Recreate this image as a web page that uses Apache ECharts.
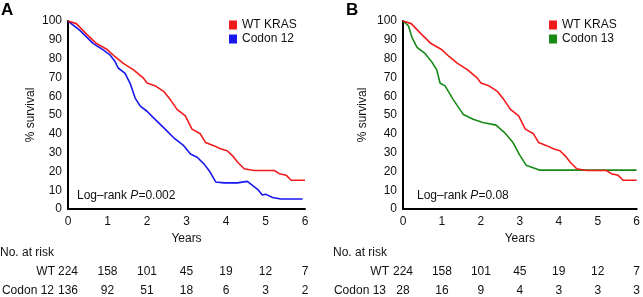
<!DOCTYPE html>
<html>
<head>
<meta charset="utf-8">
<script src="https://cdn.jsdelivr.net/npm/echarts@6/dist/echarts.min.js"></script>
<style>
html,body{margin:0;padding:0;background:#fff;}
#c{width:643px;height:297px;}
</style>
</head>
<body>
<div id="c"></div>
<script>
// ---- data ----
const yTicks = [0,10,20,30,40,50,60,70,80,90,100];
const riskYears = [0,1,2,3,4,5,6];
const riskWT  = [224,158,101,45,19,12,7];
const riskC12 = [136,92,51,18,6,3,2];
const riskC13 = [28,16,9,4,3,3,3];

const wtYears = [0,0.21,0.47,0.72,0.98,1.19,1.4,1.66,1.91,2.0,2.2,2.42,2.59,2.76,2.97,3.14,3.35,3.48,3.69,3.86,4.03,4.16,4.29,4.46,4.71,4.97,5.22,5.35,5.52,5.65,6.0];
const wtSurv  = [100,98.6,93,88,85,81,77.5,74,69.6,67,65.6,62.6,58.2,53,49.5,42.5,40,35.4,33.7,32,31,28.4,25,21.4,20.5,20.5,20.5,18.8,18,15.3,15.3];

const c12Years = [0,0.3,0.64,0.89,1.06,1.19,1.27,1.44,1.57,1.7,1.83,2.0,2.16,2.42,2.67,2.93,3.1,3.27,3.44,3.57,3.74,3.95,4.29,4.54,4.67,4.8,4.92,5.0,5.18,5.39,5.94];
const c12Surv  = [100,95,88,84.6,82,78.4,75,72.3,67,59,54.7,52,48.6,43.3,38,33.7,29.3,27.5,24,20.5,14.4,13.9,13.9,14.7,12.6,10.5,7.4,7.9,6.1,5.3,5.3];

const c13Years = [0,0.14,0.23,0.36,0.57,0.74,0.87,0.95,1.08,1.29,1.46,1.55,1.8,2.05,2.39,2.6,2.82,2.99,3.16,3.5,6.0];
const c13Surv  = [100,97.4,91.3,86,82.6,78.2,73.9,67,65.5,58.2,53,50.3,47.7,46,44.6,40.8,35.5,28.9,23.3,20.7,20.7];

const RED = '#f21b1b', BLUE = '#1717ee', GREEN = '#178a17';
const FONT = 'Liberation Sans, Arial, Helvetica, sans-serif';

function zip(xs, ys){ return xs.map((x,i)=>[x, ys[i]]); }

const chart = echarts.init(document.getElementById('c'), null, {renderer:'canvas'});

const grids = [
  {left:68, top:21, width:237, height:190},
  {left:403, top:21, width:235, height:190}
];

function mainX(gi){
  return {
    type:'value', gridIndex:gi, min:0, max:6, interval:1,
    name:'Years', nameLocation:'middle', nameGap:23,
    nameTextStyle:{fontFamily:FONT, fontSize:12, color:'#111'},
    axisLine:{show:true, onZero:false, lineStyle:{color:'#000', width:2}},
    axisTick:{show:false}, splitLine:{show:false},
    axisLabel:{fontFamily:FONT, fontSize:12, color:'#111', margin:7}
  };
}
function riskX(gi, arr, off){
  return {
    type:'value', gridIndex:gi, min:0, max:6, interval:1, position:'bottom', offset:off,
    axisLine:{show:false}, axisTick:{show:false}, splitLine:{show:false},
    axisLabel:{fontFamily:FONT, fontSize:12, color:'#111', margin:7,
      formatter: v => { const i = riskYears.indexOf(v); return i>=0 ? String(arr[i]) : ''; }}
  };
}
function mainY(gi){
  return {
    type:'value', gridIndex:gi, min:0, max:100, interval:10,
    name:'% survival', nameLocation:'middle', nameGap: gi===0 ? 31 : 34,
    nameTextStyle:{fontFamily:FONT, fontSize:12, color:'#111'},
    axisLine:{show:true, lineStyle:{color:'#000', width:2}},
    axisTick:{show:false}, splitLine:{show:false},
    axisLabel:{fontFamily:FONT, fontSize:12, color:'#111', margin:6,
      formatter: v => yTicks.indexOf(v)>=0 ? String(v) : ''}
  };
}

function line(name, data, color, xi, yi){
  return {
    name, type:'line', data, xAxisIndex:xi, yAxisIndex:yi,
    showSymbol:false, symbol:'none', smooth:false,
    lineStyle:{color, width:1.6}, itemStyle:{color},
    animation:false
  };
}

chart.setOption({
  animation:false,
  backgroundColor:'#fff',
  grid: grids,
  xAxis:[
    mainX(0), riskX(0, riskWT, 50), riskX(0, riskC12, 69),
    mainX(1), riskX(1, riskWT, 50), riskX(1, riskC13, 69)
  ],
  yAxis:[ mainY(0), mainY(1) ],
  legend:[
    {data:['WT KRAS','Codon 12'], orient:'vertical', left:224, top:14, icon:'rect',
     itemWidth:8, itemHeight:9, itemGap:2, textStyle:{fontFamily:FONT, fontSize:12, color:'#111'}},
    {data:['WT KRAS','Codon 13'], orient:'vertical', left:544, top:14, icon:'rect',
     itemWidth:8, itemHeight:9, itemGap:2, textStyle:{fontFamily:FONT, fontSize:12, color:'#111'}}
  ],
  series:[
    line('Codon 12', zip(c12Years, c12Surv), BLUE, 0, 0),
    line('WT KRAS', zip(wtYears, wtSurv), RED, 0, 0),
    line('Codon 13', zip(c13Years, c13Surv), GREEN, 3, 1),
    line('WT KRAS', zip(wtYears, wtSurv), RED, 3, 1)
  ],
  graphic:[
    {type:'text', x:1, y:2, style:{text:'A', fill:'#000', font:'bold 17px ' + FONT}},
    {type:'text', x:346, y:2, style:{text:'B', fill:'#000', font:'bold 17px ' + FONT}},
    {type:'text', x:77, y:190, style:{text:'Log\u2013rank {i|P}=0.002', fill:'#111', font:'12px ' + FONT,
      rich:{i:{fontStyle:'italic', fontFamily:FONT, fontSize:12, fill:'#111'}}}},
    {type:'text', x:417, y:190, style:{text:'Log\u2013rank {i|P}=0.08', fill:'#111', font:'12px ' + FONT,
      rich:{i:{fontStyle:'italic', fontFamily:FONT, fontSize:12, fill:'#111'}}}},
    {type:'text', x:0, y:247, style:{text:'No. at risk', fill:'#111', font:'12px ' + FONT}},
    {type:'text', x:333, y:247, style:{text:'No. at risk', fill:'#111', font:'12px ' + FONT}},
    {type:'text', x:55, y:266, style:{text:'WT', fill:'#111', font:'12px ' + FONT, textAlign:'right'}},
    {type:'text', x:54, y:285, style:{text:'Codon 12', fill:'#111', font:'12px ' + FONT, textAlign:'right'}},
    {type:'text', x:389, y:266, style:{text:'WT', fill:'#111', font:'12px ' + FONT, textAlign:'right'}},
    {type:'text', x:386, y:285, style:{text:'Codon 13', fill:'#111', font:'12px ' + FONT, textAlign:'right'}}
  ]
});
</script>
</body>
</html>
